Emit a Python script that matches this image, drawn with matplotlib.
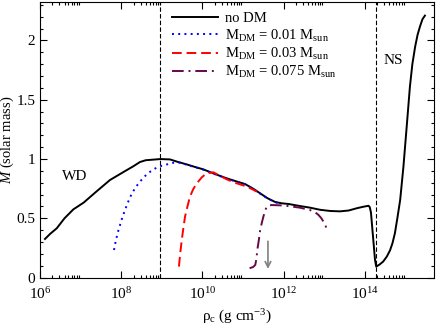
import numpy as np
import matplotlib
matplotlib.use('Agg')
import matplotlib.pyplot as plt
from matplotlib.ticker import FixedLocator, MultipleLocator

plt.rcParams['font.family'] = ['Liberation Serif', 'DejaVu Serif']
plt.rcParams['mathtext.fontset'] = 'custom'
plt.rcParams['mathtext.rm'] = 'Liberation Serif'
plt.rcParams['mathtext.it'] = 'Liberation Serif:italic'

# log10(rho_c) and mass
lg_nodm = [6.12, 6.25, 6.41, 6.6, 6.82, 7.07, 7.4, 7.72, 8.05, 8.3, 8.46, 8.6,
           8.96, 9.2, 9.4, 9.61, 9.8, 10.02, 10.3, 10.6, 10.85, 11.05, 11.25,
           11.42, 11.6, 11.79, 11.95, 12.12, 12.4, 12.65, 12.9, 13.15, 13.39,
           13.6, 13.8, 13.95, 14.09, 14.12, 14.15, 14.2, 14.25, 14.28, 14.36,
           14.45, 14.54, 14.62, 14.68, 14.74, 14.8, 14.87, 14.95, 15.03, 15.11,
           15.17, 15.24, 15.3, 15.36, 15.42, 15.48]
m_nodm = [0.326, 0.37, 0.416, 0.5, 0.576, 0.632, 0.73, 0.823, 0.89, 0.94, 0.975, 0.99,
          1.0, 0.997, 0.975, 0.955, 0.935, 0.913, 0.875, 0.837, 0.81, 0.789, 0.75,
          0.711, 0.67, 0.638, 0.627, 0.621, 0.604, 0.59, 0.572, 0.562, 0.559,
          0.566, 0.585, 0.597, 0.606, 0.595, 0.55, 0.35, 0.15, 0.093, 0.11,
          0.135, 0.177, 0.23, 0.29, 0.374, 0.5, 0.655, 0.935, 1.27, 1.61,
          1.8, 1.95, 2.05, 2.12, 2.18, 2.21]

lg_001 = [7.82, 7.87, 7.93, 8.01, 8.09, 8.17, 8.26, 8.36, 8.46, 8.58, 8.71, 8.83,
          8.96, 9.16, 9.3, 9.45, 9.61, 9.8, 10.02, 10.3, 10.6, 10.85, 11.05,
          11.25, 11.42, 11.6, 11.79, 11.85]
m_001 = [0.233, 0.32, 0.40, 0.49, 0.57, 0.64, 0.71, 0.765, 0.81, 0.855, 0.893, 0.92,
         0.94, 0.958, 0.97, 0.97, 0.953, 0.933, 0.911, 0.873, 0.835, 0.808, 0.787,
         0.748, 0.709, 0.668, 0.636, 0.63]

lg_003 = [9.42, 9.45, 9.49, 9.53, 9.57, 9.63, 9.69, 9.77, 9.86, 9.98, 10.1, 10.27,
          10.45, 10.6, 10.8, 11.05, 11.2, 11.34]
m_003 = [0.093, 0.2, 0.318, 0.42, 0.514, 0.6, 0.682, 0.745, 0.795, 0.845, 0.88, 0.888,
         0.855, 0.829, 0.8, 0.773, 0.75, 0.725]

lg_0075 = [11.16, 11.25, 11.3, 11.33, 11.35, 11.39, 11.42, 11.46, 11.5, 11.54, 11.58,
           11.64, 11.71, 11.9, 12.1, 12.4, 12.65, 12.78, 12.86, 12.93, 12.98,
           13.03, 13.06]
m_0075 = [0.079, 0.09, 0.107, 0.16, 0.233, 0.32, 0.40, 0.46, 0.514, 0.56, 0.598,
          0.61, 0.612, 0.61, 0.604, 0.59, 0.57, 0.55, 0.528, 0.5, 0.472,
          0.44, 0.408]

vlines = [10**8.96, 10**14.28]
xticks = [1e6, 1e8, 1e10, 1e12, 1e14]
xticklabels = ['$10^{6}$', '$10^{8}$', '$10^{10}$', '$10^{12}$', '$10^{14}$']


def main():
    fig = plt.figure(figsize=(4.36, 3.27), dpi=100)
    ax = fig.add_axes([0.092, 0.151, 0.903, 0.843])

    ax.plot(10**np.array(lg_nodm), m_nodm, color='black', lw=1.4, label='no DM')
    ax.plot(10**np.array(lg_001), m_001, color='blue', lw=1.4, ls=(0, (1, 2.2)),
            label=r'M$_{\rm DM}$ = 0.01 M$_{\rm sun}$')
    ax.plot(10**np.array(lg_003), m_003, color='red', lw=1.4, ls=(0, (5, 2.5)),
            label=r'M$_{\rm DM}$ = 0.03 M$_{\rm sun}$')
    ax.plot(10**np.array(lg_0075), m_0075, color='#670748', lw=1.4,
            ls=(0, (6, 2.5, 1, 2.5)), label=r'M$_{\rm DM}$ = 0.075 M$_{\rm sun}$')

    for v in vlines:
        ax.axvline(v, color='black', lw=0.8, ls=(0, (4, 2)))

    ax.annotate('', xy=(4.1e11, 0.05), xytext=(4.1e11, 0.33),
                arrowprops=dict(arrowstyle='->', color='gray', lw=1.2))

    ax.text(10**6.86, 0.85, 'WD', fontsize=11, ha='center', va='center')
    ax.text(10**14.7, 1.83, 'NS', fontsize=11, ha='center', va='center')

    ax.set_xscale('log')
    ax.set_xlim(1e6, 5e15)
    ax.set_ylim(0, 2.325)
    ax.xaxis.set_major_locator(FixedLocator(xticks))
    ax.set_xticklabels(xticklabels)
    minors = [k * 10.0**e for e in [6, 8, 10, 12, 14] for k in range(2, 10)]
    ax.xaxis.set_minor_locator(FixedLocator(minors))
    ax.yaxis.set_minor_locator(MultipleLocator(0.1))
    ax.set_yticks([0, 0.5, 1, 1.5, 2])
    ax.set_yticklabels(['0', '0.5', '1', '1.5', '2'])

    ax.tick_params(which='both', direction='in', top=True, right=True, labelsize=11)
    ax.tick_params(which='major', length=5, width=0.8)
    ax.tick_params(which='minor', length=2.5, width=0.8)
    ax.tick_params(axis='x', pad=6)

    ax.set_xlabel(r'$\rm \rho_c$ (g cm$^{-3}$)', fontsize=11)
    ax.set_ylabel(r'$M$ (solar mass)', fontsize=10.5)
    ax.yaxis.set_label_coords(-0.06, 0.5)

    ax.legend(loc='upper left', bbox_to_anchor=(0.31, 1.0), frameon=False,
              fontsize=10.5, handlelength=3.1, handletextpad=0.5,
              labelspacing=0.15, borderaxespad=0.3)

    fig.savefig('out.png', dpi=100)


if __name__ == '__main__':
    main()
